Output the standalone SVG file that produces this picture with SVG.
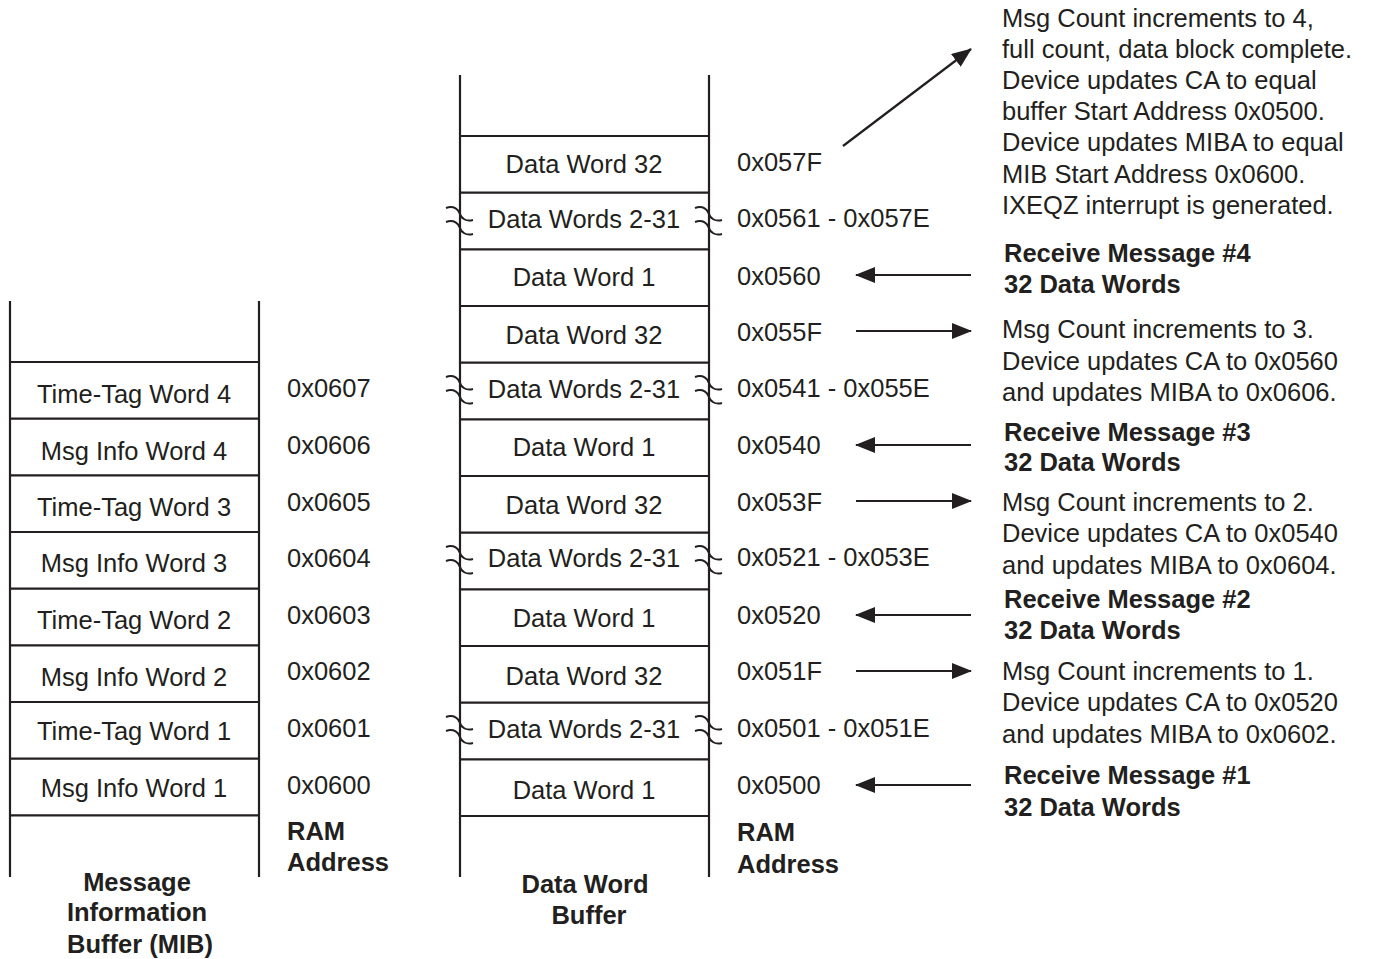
<svg xmlns="http://www.w3.org/2000/svg" width="1376" height="959" viewBox="0 0 1376 959">
<defs>
<style>
text{font-family:"Liberation Sans",Arial,sans-serif;font-size:25.5px;fill:#231f20}
.c{text-anchor:middle}
.b{font-weight:bold}
.ln{stroke:#231f20;stroke-width:2.2;fill:none}
.br{stroke:#231f20;stroke-width:2;fill:none}
.ar{stroke:#231f20;stroke-width:2.2;fill:none;marker-end:url(#ah)}
</style>
<marker id="ah" viewBox="0 0 20 16" refX="19" refY="8" markerWidth="20" markerHeight="16" markerUnits="userSpaceOnUse" orient="auto">
<path d="M0,0 L20,8 L0,16 Z" fill="#231f20"/>
</marker>
<path id="brk" d="M0,0 C8,-3 13,2 14,6 C15,10 20,14 27,12 M0,14 C8,11 13,16 14,20 C15,24 20,28 27,26"/>
</defs>
<rect width="1376" height="959" fill="#fff"/>

<g id="mib">
<path class="ln" d="M10,301 V877 M259,301 V877"/>
<path class="ln" d="M10,362 H259 M10,418.7 H259 M10,475.3 H259 M10,532 H259 M10,588.7 H259 M10,645.3 H259 M10,702 H259 M10,758.7 H259 M10,815.3 H259"/>
<text class="c" x="134" y="403">Time-Tag Word 4</text>
<text class="c" x="134" y="460">Msg Info Word 4</text>
<text class="c" x="134" y="516">Time-Tag Word 3</text>
<text class="c" x="134" y="572">Msg Info Word 3</text>
<text class="c" x="134" y="629">Time-Tag Word 2</text>
<text class="c" x="134" y="686">Msg Info Word 2</text>
<text class="c" x="134" y="740">Time-Tag Word 1</text>
<text class="c" x="134" y="797">Msg Info Word 1</text>
<text class="c b" x="137" y="891">Message</text>
<text class="c b" x="137" y="921">Information</text>
<text class="c b" x="140" y="953">Buffer (MIB)</text>
</g>

<g id="mib-addr">
<text x="287" y="397">0x0607</text>
<text x="287" y="454">0x0606</text>
<text x="287" y="511">0x0605</text>
<text x="287" y="567">0x0604</text>
<text x="287" y="624">0x0603</text>
<text x="287" y="680">0x0602</text>
<text x="287" y="737">0x0601</text>
<text x="287" y="794">0x0600</text>
<text class="b" x="287" y="840">RAM</text>
<text class="b" x="287" y="871">Address</text>
</g>

<g id="dwb">
<path class="ln" d="M460,75 V877 M709,75 V877"/>
<path class="ln" d="M460,136 H709 M460,192.7 H709 M460,249.3 H709 M460,306 H709 M460,362.7 H709 M460,419.3 H709 M460,476 H709 M460,532.7 H709 M460,589.3 H709 M460,646 H709 M460,702.7 H709 M460,759.3 H709 M460,816 H709"/>
<use href="#brk" class="br" x="446" y="208"/>
<use href="#brk" class="br" x="695" y="208"/>
<use href="#brk" class="br" x="446" y="377"/>
<use href="#brk" class="br" x="695" y="377"/>
<use href="#brk" class="br" x="446" y="547"/>
<use href="#brk" class="br" x="695" y="547"/>
<use href="#brk" class="br" x="446" y="717"/>
<use href="#brk" class="br" x="695" y="717"/>
<text class="c" x="584" y="173">Data Word 32</text>
<text class="c" x="584" y="228">Data Words 2-31</text>
<text class="c" x="584" y="286">Data Word 1</text>
<text class="c" x="584" y="344">Data Word 32</text>
<text class="c" x="584" y="398">Data Words 2-31</text>
<text class="c" x="584" y="456">Data Word 1</text>
<text class="c" x="584" y="514">Data Word 32</text>
<text class="c" x="584" y="567">Data Words 2-31</text>
<text class="c" x="584" y="627">Data Word 1</text>
<text class="c" x="584" y="685">Data Word 32</text>
<text class="c" x="584" y="738">Data Words 2-31</text>
<text class="c" x="584" y="799">Data Word 1</text>
<text class="c b" x="585" y="893">Data Word</text>
<text class="c b" x="589" y="924">Buffer</text>
</g>

<g id="dwb-addr">
<text x="737" y="171">0x057F</text>
<text x="737" y="227">0x0561 - 0x057E</text>
<text x="737" y="285">0x0560</text>
<text x="737" y="341">0x055F</text>
<text x="737" y="397">0x0541 - 0x055E</text>
<text x="737" y="454">0x0540</text>
<text x="737" y="511">0x053F</text>
<text x="737" y="566">0x0521 - 0x053E</text>
<text x="737" y="624">0x0520</text>
<text x="737" y="680">0x051F</text>
<text x="737" y="737">0x0501 - 0x051E</text>
<text x="737" y="794">0x0500</text>
<text class="b" x="737" y="841">RAM</text>
<text class="b" x="737" y="873">Address</text>
</g>

<g id="notes">
<text x="1002" y="27">Msg Count increments to 4,</text>
<text x="1002" y="58">full count, data block complete.</text>
<text x="1002" y="89">Device updates CA to equal</text>
<text x="1002" y="120">buffer Start Address 0x0500.</text>
<text x="1002" y="151">Device updates MIBA to equal</text>
<text x="1002" y="183">MIB Start Address 0x0600.</text>
<text x="1002" y="214">IXEQZ interrupt is generated.</text>
<text class="b" x="1004" y="262">Receive Message #4</text>
<text class="b" x="1004" y="293">32 Data Words</text>
<text x="1002" y="338">Msg Count increments to 3.</text>
<text x="1002" y="370">Device updates CA to 0x0560</text>
<text x="1002" y="401">and updates MIBA to 0x0606.</text>
<text class="b" x="1004" y="441">Receive Message #3</text>
<text class="b" x="1004" y="471">32 Data Words</text>
<text x="1002" y="511">Msg Count increments to 2.</text>
<text x="1002" y="542">Device updates CA to 0x0540</text>
<text x="1002" y="574">and updates MIBA to 0x0604.</text>
<text class="b" x="1004" y="608">Receive Message #2</text>
<text class="b" x="1004" y="639">32 Data Words</text>
<text x="1002" y="680">Msg Count increments to 1.</text>
<text x="1002" y="711">Device updates CA to 0x0520</text>
<text x="1002" y="743">and updates MIBA to 0x0602.</text>
<text class="b" x="1004" y="784">Receive Message #1</text>
<text class="b" x="1004" y="816">32 Data Words</text>
</g>

<g id="connectors">
<line class="ar" x1="843" y1="146" x2="971" y2="49"/>
<line class="ar" x1="971" y1="275" x2="856" y2="275"/>
<line class="ar" x1="856" y1="331" x2="971" y2="331"/>
<line class="ar" x1="971" y1="445" x2="856" y2="445"/>
<line class="ar" x1="856" y1="501" x2="971" y2="501"/>
<line class="ar" x1="971" y1="615" x2="856" y2="615"/>
<line class="ar" x1="856" y1="671" x2="971" y2="671"/>
<line class="ar" x1="971" y1="785" x2="856" y2="785"/>
</g>
</svg>
